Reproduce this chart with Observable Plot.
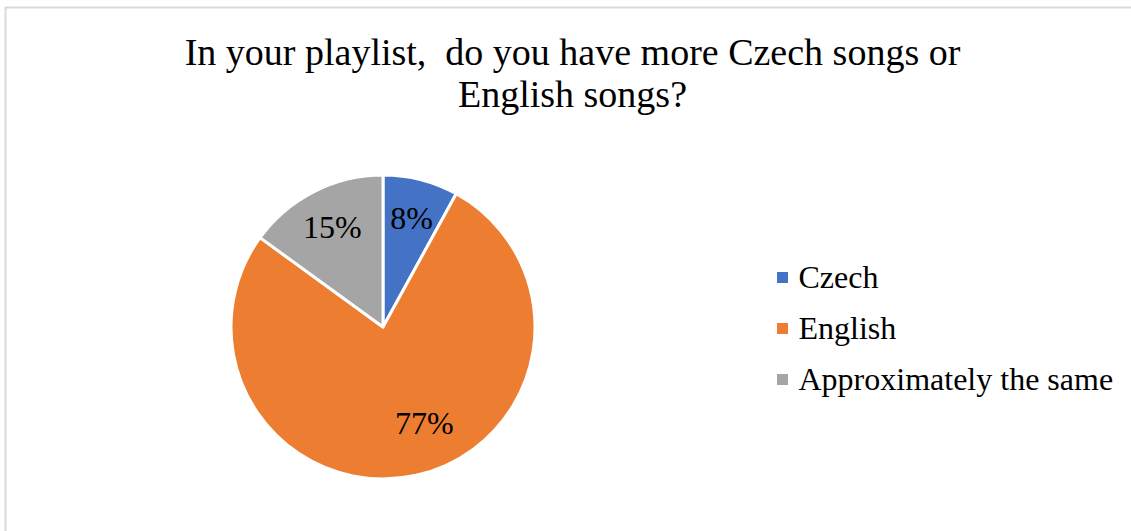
<!DOCTYPE html>
<html>
<head>
<meta charset="utf-8">
<script src="https://cdn.jsdelivr.net/npm/d3@7"></script>
<script src="https://cdn.jsdelivr.net/npm/@observablehq/plot@0.6"></script>
<style>
  html, body { margin: 0; padding: 0; background: #fff; }
  #chart { width: 1131px; height: 531px; overflow: hidden; }
</style>
</head>
<body>
<div id="chart"></div>
<script>
const categories = ["Czech", "English", "Approximately the same"];
const values = [8, 77, 15];
const colors = ["#4472C4", "#ED7D31", "#A5A5A5"];
const titleLines = ["In your playlist,  do you have more Czech songs or", "English songs?"];

const W = 1131, H = 531;
const FONT = "Liberation Serif, Times New Roman, serif";
const pieCenter = {x: 383, y: 327};
const pieRadius = 152;

const data = categories.map((c, i) => ({category: c, value: values[i]}));
const arcs = d3.pie().sort(null).value(d => d.value)(data);

// label positions derived from arc geometry
const labelData = arcs.map((a, i) => {
  const span = a.endAngle - a.startAngle;
  const small = span < Math.PI / 2;
  const mid = small ? (a.startAngle + a.endAngle) / 2 : (a.startAngle + a.endAngle) / 2 - 0.18;
  const rr = pieRadius * (small ? 0.74 : 0.69);
  return {
    label: `${a.data.value}%`,
    px: pieCenter.x + rr * Math.sin(mid),
    py: pieCenter.y - rr * Math.cos(mid)
  };
});

const legendData = categories.map((c, i) => ({category: c, lx: 782, ly: 277 + i * 51}));

function pieMark(index, scales, values, dimensions, context) {
  const g = d3.create("svg:g");
  const cx = scales.x(pieCenter.x), cy = scales.y(pieCenter.y);
  const r = scales.x(pieCenter.x + pieRadius) - cx;
  const arcGen = d3.arc().innerRadius(0).outerRadius(r);
  g.selectAll("path").data(arcs).join("path")
    .attr("transform", `translate(${cx},${cy})`)
    .attr("d", arcGen)
    .attr("fill", d => scales.color(d.data.category))
    .attr("stroke", "#fff")
    .attr("stroke-width", 3)
    .attr("stroke-linejoin", "round");
  return g.node();
}

const chart = Plot.plot({
  width: W,
  height: H,
  margin: 0,
  x: {domain: [0, W], range: [0, W], axis: null},
  y: {domain: [0, H], range: [0, H], axis: null},
  color: {domain: categories, range: colors},
  style: {fontFamily: FONT, background: "#fff"},
  marks: [
    Plot.ruleX([5], {y1: 7, y2: H, stroke: "#d9d9d9", strokeWidth: 2}),
    Plot.ruleY([7], {x1: 5, x2: W, stroke: "#d9d9d9", strokeWidth: 2}),
    Plot.text(titleLines, {
      x: 572, y: (d, i) => 64 + i * 42, text: d => d,
      fontSize: 38, fill: "#000", textAnchor: "middle", lineAnchor: "bottom", fontFamily: FONT
    }),
    pieMark,
    Plot.text(labelData, {
      x: "px", y: "py", text: "label", fontSize: 32, fill: "#000",
      textAnchor: "middle", lineAnchor: "middle", fontFamily: FONT
    }),
    Plot.dot(legendData, {
      x: "lx", y: "ly", fill: "category", symbol: "square", r: 6.2, stroke: null
    }),
    Plot.text(legendData, {
      x: d => d.lx + 16, y: "ly", text: "category", fontSize: 32, fill: "#000",
      textAnchor: "start", lineAnchor: "middle", fontFamily: FONT
    })
  ]
});
document.getElementById("chart").appendChild(chart);
</script>
</body>
</html>
